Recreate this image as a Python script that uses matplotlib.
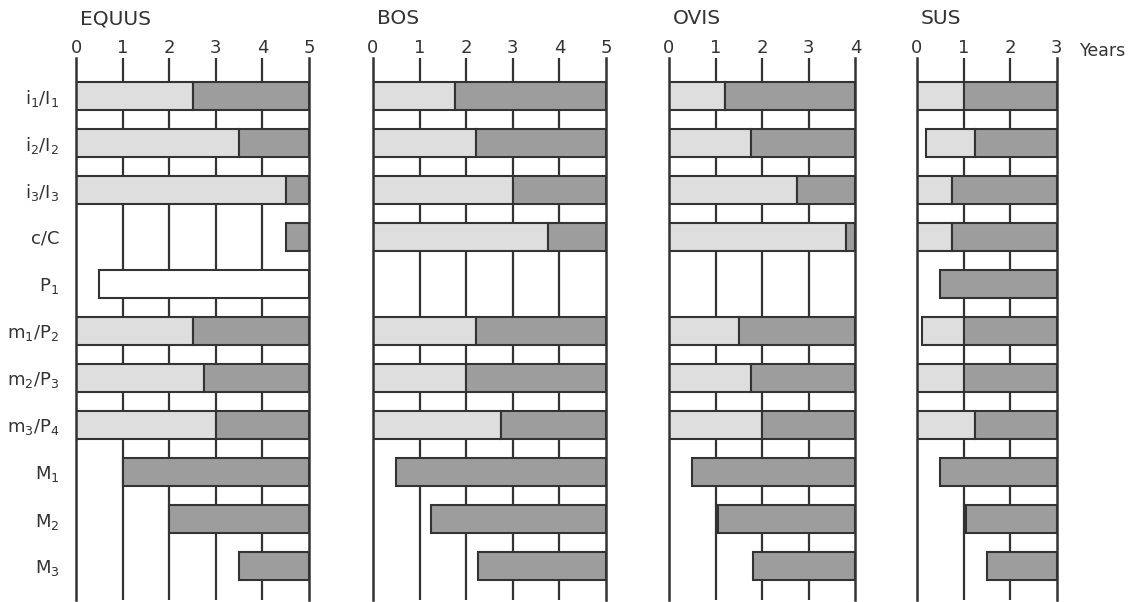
import matplotlib
matplotlib.use('Agg')
import matplotlib.pyplot as plt

plt.rcParams['mathtext.fontset'] = 'dejavusans'

# tooth rows, top to bottom
teeth = [r'i$_1$/I$_1$', r'i$_2$/I$_2$', r'i$_3$/I$_3$', 'c/C', r'P$_1$',
         r'm$_1$/P$_2$', r'm$_2$/P$_3$', r'm$_3$/P$_4$', r'M$_1$', r'M$_2$', r'M$_3$']

# deciduous tooth (from, to) in years, permanent tooth from (to end of scale),
# open = tooth shown without shading
equus_max = 5
equus_decid = [(0, 2.5), (0, 3.5), (0, 4.5), None, None, (0, 2.5), (0, 2.75), (0, 3), None, None, None]
equus_perm = [2.5, 3.5, 4.5, 4.5, None, 2.5, 2.75, 3, 1, 2, 3.5]
equus_open = [None, None, None, None, 0.5, None, None, None, None, None, None]

bos_max = 5
bos_decid = [(0, 1.75), (0, 2.2), (0, 3), (0, 3.75), None, (0, 2.2), (0, 2), (0, 2.75), None, None, None]
bos_perm = [1.75, 2.2, 3, 3.75, None, 2.2, 2, 2.75, 0.5, 1.25, 2.25]
bos_open = [None] * 11

ovis_max = 4
ovis_decid = [(0, 1.2), (0, 1.75), (0, 2.75), (0, 3.8), None, (0, 1.5), (0, 1.75), (0, 2), None, None, None]
ovis_perm = [1.2, 1.75, 2.75, 3.8, None, 1.5, 1.75, 2, 0.5, 1.05, 1.8]
ovis_open = [None] * 11

sus_max = 3
sus_decid = [(0, 1), (0.2, 1.25), (0, 0.75), (0, 0.75), None, (0.1, 1), (0, 1), (0, 1.25), None, None, None]
sus_perm = [1, 1.25, 0.75, 0.75, 0.5, 1, 1, 1.25, 0.5, 1.05, 1.5]
sus_open = [None] * 11

panels = [('EQUUS', equus_max, equus_decid, equus_perm, equus_open, 76),
          ('BOS', bos_max, bos_decid, bos_perm, bos_open, 373),
          ('OVIS', ovis_max, ovis_decid, ovis_perm, ovis_open, 669),
          ('SUS', sus_max, sus_decid, sus_perm, sus_open, 917)]

W, H = 1133, 602
px_per_year = 46.6
ink = '#333333'
light = '#dedede'
dark = '#9d9d9d'

fig = plt.figure(figsize=(W / 100, H / 100), dpi=100)

for k, (name, ymax, decid, perm, opn, x0) in enumerate(panels):
    top, bottom = 58, 600
    ax = fig.add_axes([x0 / W, 1 - bottom / H, ymax * px_per_year / W, (bottom - top) / H])
    # row i centred at 96 + 47*i px
    ax.set_ylim((bottom - 96) / 47, (top - 96) / 47)
    ax.set_xlim(0, ymax)

    for t in range(1, ymax):
        ax.axvline(t, color=ink, lw=1.6, zorder=1)

    for i in range(len(teeth)):
        if decid[i] is not None:
            a, b = decid[i]
            ax.barh(i, b - a, left=a, height=0.6, color=light, edgecolor=ink, lw=1.5, zorder=2)
        if perm[i] is not None:
            ax.barh(i, ymax - perm[i], left=perm[i], height=0.6, color=dark, edgecolor=ink, lw=1.5, zorder=2)
        if opn[i] is not None:
            ax.barh(i, ymax - opn[i], left=opn[i], height=0.6, color='white', edgecolor=ink, lw=1.5, zorder=2)

    for s in ['top', 'bottom']:
        ax.spines[s].set_visible(False)
    for s in ['left', 'right']:
        ax.spines[s].set_color(ink)
        ax.spines[s].set_linewidth(1.8)
        ax.spines[s].set_zorder(3)

    ax.xaxis.tick_top()
    ax.set_xticks(range(ymax + 1))
    ax.tick_params(axis='x', length=0, pad=1, labelsize=13, labelcolor=ink)

    if k == 0:
        ax.set_yticks(range(len(teeth)))
        ax.set_yticklabels(teeth)
        ax.tick_params(axis='y', length=0, pad=12, labelsize=13, labelcolor=ink)
    else:
        ax.set_yticks([])

    fig.text((x0 + 4) / W, 1 - 19 / H, name, fontsize=14.5, color=ink, ha='left', va='center')

fig.text(1080 / W, 1 - 51 / H, 'Years', fontsize=12.5, color=ink, ha='left', va='center')

fig.savefig('out.png', dpi=100, facecolor='white')
